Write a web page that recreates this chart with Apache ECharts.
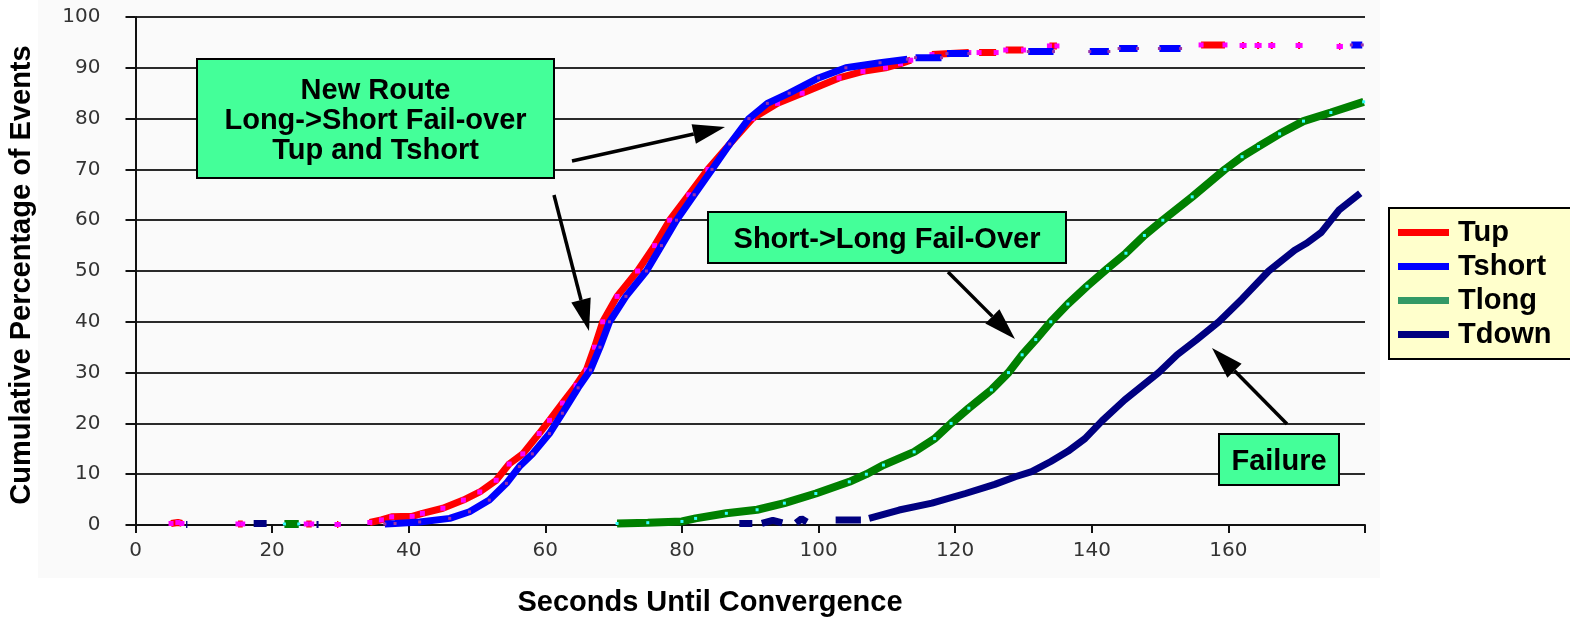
<!DOCTYPE html>
<html>
<head>
<meta charset="utf-8">
<title>Seconds Until Convergence</title>
<script src="https://cdn.jsdelivr.net/npm/echarts/dist/echarts.min.js"></script>
<style>
  html, body { margin: 0; padding: 0; background: #fff; }
  #chart { width: 1570px; height: 619px; }
</style>
</head>
<body>
<div id="chart"></div>
<script>
// Axis ticks
const xTicks = { min: 0, max: 180, step: 20 };
const yTicks = { min: 0, max: 100, step: 10 };

// Each series is a list of pieces; a gap separates the pieces
const tupPieces = [
    [[5.2, 0.3], [6.2, 0.5], [6.8, 0.3]],
    [[15, 0.2], [15.7, 0.2]],
    [[25, 0.2], [25.8, 0.2]],
    [[29.5, 0.1], [29.7, 0.1]],
    [[34.3, 0.5], [36, 1.0], [37.5, 1.6], [40.5, 1.7], [42, 2.3], [45, 3.3], [48, 4.9], [50.4, 6.5],
     [52.8, 8.8], [54.7, 12], [56.7, 14], [59.1, 18], [60.6, 20.6], [62.5, 24], [64.5, 27.5], [66, 30.5],
     [67.2, 35], [68.4, 40], [70.5, 45], [73.5, 50], [76, 55], [78.2, 60], [81, 65], [83.8, 70], [87, 75],
     [90.3, 80], [94, 83], [97.6, 85], [103, 88], [106.5, 89.3], [109.8, 90], [112, 90.8], [113.5, 91.5]],
    [[116.6, 92.6], [122, 93]],
    [[123.5, 93], [126, 93]],
    [[127.4, 93.5], [130, 93.5]],
    [[133.8, 94.3], [134.9, 94.3]],
    [[156, 94.5], [159.5, 94.5]],
    [[162, 94.4], [162.3, 94.4]],
    [[164.2, 94.4], [164.5, 94.4]],
    [[166.2, 94.4], [166.5, 94.4]],
    [[170.2, 94.4], [170.5, 94.4]],
    [[176.2, 94.2], [176.4, 94.2]]
];

const tshortPieces = [
    [[36.5, 0.2], [38, 0.3], [41.6, 0.6], [46, 1.3], [48.9, 2.6], [51.8, 4.9], [54.3, 8.2], [56.2, 11.5],
     [58.1, 14], [60.6, 18], [62.5, 22], [64.8, 27], [66.6, 30.5], [68, 35], [69.4, 40], [71.8, 45],
     [74.8, 50], [77, 55], [79.2, 60], [81.8, 65], [84.4, 70], [87, 75], [89.8, 80], [92.5, 83],
     [95.7, 85], [100, 88], [104, 90], [109, 91], [113, 91.7]],
    [[114.2, 92], [118, 92]],
    [[118.8, 92.8], [122, 92.8]],
    [[130.7, 93.2], [134.4, 93.2]],
    [[139.7, 93.2], [142.5, 93.2]],
    [[144, 93.8], [146.7, 93.8]],
    [[149.9, 93.8], [153, 93.8]],
    [[178, 94.5], [179.6, 94.5]]
];

const tlongPieces = [
    [[21.8, 0.2], [23.9, 0.2]],
    [[70.5, 0.3], [75, 0.45], [80, 0.7], [82, 1.3], [86.5, 2.3], [91, 3], [95, 4.3], [99.6, 6.2],
     [104.5, 8.5], [107, 10], [109.5, 11.8], [114, 14.4], [117, 17], [119.4, 20], [122, 23],
     [125.3, 26.6], [127.8, 30], [129.8, 33.5], [131.8, 36.5], [134, 40], [136.5, 43.5], [139.3, 47],
     [142.3, 50.5], [145, 53.5], [147.7, 57], [150.4, 60], [154.7, 64.6], [159.5, 70], [162, 72.5],
     [164.4, 74.5], [167.5, 77], [171, 79.5], [175, 81.2], [179.8, 83.3]]
];

const tdownPieces = [
    [[7.4, 0.1], [7.6, 0.1]],
    [[17.3, 0.3], [19.2, 0.3]],
    [[26.5, 0.1], [26.8, 0.1]],
    [[88.4, 0.3], [90.3, 0.3]],
    [[91.7, 0.3], [93.3, 0.9], [94.7, 0.4]],
    [[96.7, 0.4], [97.5, 1.2], [98.3, 0.6]],
    [[102.5, 1.0], [106.2, 1.0]],
    [[107.4, 1.3], [111.8, 2.95], [116.6, 4.3], [121.5, 6.2], [125.8, 8], [128.8, 9.5], [131.2, 10.5],
     [134, 12.5], [136.5, 14.5], [139, 17], [141.5, 20.5], [144.8, 24.6], [149.8, 30], [152.5, 33.5],
     [155.3, 36.4], [158.6, 40], [162, 44.5], [165.9, 50], [169.7, 54.1], [171.5, 55.5],
     [173.6, 57.6], [176.2, 62], [179.3, 65.3]]
];

// join pieces with an empty point so the line breaks between them
function joinPieces(pieces) {
    const out = [];
    pieces.forEach((p, i) => {
        if (i > 0) out.push([p[0][0], '-']);
        p.forEach(pt => out.push(pt));
    });
    return out;
}

const boldFont = 'Liberation Sans, Arial, sans-serif';

function arrow(x1, y1, x2, y2) {
    const a = Math.atan2(y2 - y1, x2 - x1);
    const c = Math.cos(a), s = Math.sin(a);
    const L = 32, W = 10;
    const bx = x2 - L * c, by = y2 - L * s;
    return [
        { type: 'line', z: 100, shape: { x1: x1, y1: y1, x2: bx, y2: by },
          style: { stroke: '#000', lineWidth: 3.5 } },
        { type: 'polygon', z: 100,
          shape: { points: [[x2, y2], [bx - W * s, by + W * c], [bx + W * s, by - W * c]] },
          style: { fill: '#000' } }
    ];
}

function box(x, y, w, h, text, lineHeight) {
    return [
        { type: 'rect', z: 100, shape: { x: x, y: y, width: w, height: h },
          style: { fill: '#44ff99', stroke: '#000', lineWidth: 2 } },
        { type: 'text', z: 101, x: x + w / 2, y: y + h / 2 + 2,
          style: { text: text, fill: '#000', font: 'bold 29px ' + boldFont,
                   textAlign: 'center', textVerticalAlign: 'middle', lineHeight: lineHeight || 30 } }
    ];
}

const chart = echarts.init(document.getElementById('chart'));

const option = {
    animation: false,
    backgroundColor: '#fff',
    grid: { left: 135.5, right: 205, top: 17, bottom: 94 },
    xAxis: {
        type: 'value',
        min: xTicks.min, max: xTicks.max, interval: xTicks.step,
        axisLine: { show: true, lineStyle: { color: '#111', width: 2 } },
        axisTick: { show: true, length: 8, lineStyle: { color: '#111', width: 2 } },
        axisLabel: {
            margin: 16, fontSize: 20, color: '#333', fontFamily: 'DejaVu Sans',
            formatter: v => (v === xTicks.max ? '' : String(v))
        },
        splitLine: { show: false }
    },
    yAxis: {
        type: 'value',
        min: yTicks.min, max: yTicks.max, interval: yTicks.step,
        axisLine: { show: true, lineStyle: { color: '#111', width: 2 } },
        axisTick: { show: true, length: 10, lineStyle: { color: '#111', width: 2 } },
        axisLabel: { margin: 35, fontSize: 20, color: '#333', fontFamily: 'DejaVu Sans' },
        splitLine: { show: true, lineStyle: { color: '#2a2a2a', width: 2 } }
    },
    legend: {
        orient: 'vertical',
        left: 1389, top: 208,
        backgroundColor: '#ffffcc',
        borderColor: '#000', borderWidth: 2,
        padding: [10, 40, 10, 9],
        itemGap: 5, itemWidth: 51, itemHeight: 7,
        icon: 'rect',
        selectedMode: false,
        textStyle: { fontSize: 29, fontWeight: 'bold', color: '#000', fontFamily: boldFont, padding: [0, 0, 0, 4] },
        data: [
            { name: 'Tup', itemStyle: { color: '#ff0000' } },
            { name: 'Tshort', itemStyle: { color: '#0000ff' } },
            { name: 'Tlong', itemStyle: { color: '#339966' } },
            { name: 'Tdown', itemStyle: { color: '#000080' } }
        ]
    },
    series: [
        {
            name: 'Tup', type: 'line', data: joinPieces(tupPieces),
            lineStyle: { color: '#ff0000', width: 7 },
            symbol: 'rect', symbolSize: 5, itemStyle: { color: '#ff00ff' },
            connectNulls: false, z: 3
        },
        {
            name: 'Tshort', type: 'line', data: joinPieces(tshortPieces),
            lineStyle: { color: '#0000ff', width: 7 },
            symbol: 'rect', symbolSize: 3, itemStyle: { color: '#9933aa' },
            connectNulls: false, z: 4
        },
        {
            name: 'Tlong', type: 'line', data: joinPieces(tlongPieces),
            lineStyle: { color: '#008000', width: 8 },
            symbol: 'rect', symbolSize: 3, itemStyle: { color: '#33ffff' },
            connectNulls: false, z: 3
        },
        {
            name: 'Tdown', type: 'line', data: joinPieces(tdownPieces),
            lineStyle: { color: '#000080', width: 7 },
            showSymbol: false, itemStyle: { color: '#000080' },
            connectNulls: false, z: 3
        }
    ],
    graphic: [
        { type: 'rect', z: -100, silent: true, shape: { x: 38, y: 0, width: 1342, height: 578 },
          style: { fill: '#fafafa' } },
        { type: 'text', x: 22, y: 275, rotation: Math.PI / 2,
          style: { text: 'Cumulative Percentage of Events', fill: '#000', font: 'bold 29px ' + boldFont,
                   textAlign: 'center', textVerticalAlign: 'middle' } },
        { type: 'text', x: 710, y: 603,
          style: { text: 'Seconds Until Convergence', fill: '#000', font: 'bold 29px ' + boldFont,
                   textAlign: 'center', textVerticalAlign: 'middle' } },
        ...box(197, 59, 357, 119, 'New Route\nLong->Short Fail-over\nTup and Tshort', 30),
        ...box(708, 212, 358, 51, 'Short->Long Fail-Over'),
        ...box(1219, 434, 120, 51, 'Failure'),
        ...arrow(572, 161, 725, 127),
        ...arrow(554, 195, 589, 331),
        ...arrow(948, 272, 1015, 339),
        ...arrow(1287, 424, 1212, 348)
    ]
};

chart.setOption(option);

window.addEventListener('resize', () => {
    chart.resize();
});
</script>
</body>
</html>
